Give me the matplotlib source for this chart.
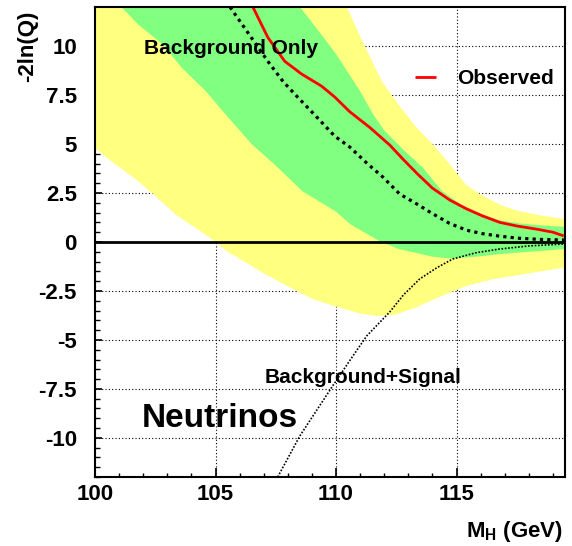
import numpy as np
import matplotlib
matplotlib.use("Agg")
import matplotlib.pyplot as plt
from matplotlib.ticker import MultipleLocator, FuncFormatter

plt.rcParams['font.family'] = ['Liberation Sans', 'DejaVu Sans']
plt.rcParams['font.weight'] = 'bold'
plt.rcParams['axes.unicode_minus'] = False
plt.rcParams['mathtext.fontset'] = 'custom'
plt.rcParams['mathtext.rm'] = 'Liberation Sans:bold'
plt.rcParams['mathtext.bf'] = 'Liberation Sans:bold'
plt.rcParams['mathtext.it'] = 'Liberation Sans:bold'

# ---------------- data ----------------
# observed -2ln(Q)
obs_x = [106.55, 107.17, 107.87, 108.58, 109.4, 109.95, 110.57, 111.4, 112.23, 112.8,
         113.4, 114.0, 114.71, 115.4, 116.08, 116.8, 117.49, 118.3, 119.0, 119.45]
obs_y = [12.0, 10.45, 9.23, 8.57, 7.96, 7.4, 6.65, 5.85, 4.95, 4.2,
         3.45, 2.75, 2.15, 1.7, 1.33, 1.0, 0.82, 0.66, 0.5, 0.31]

# expected background-only median
bkg_x = [105.6, 106.45, 107.17, 107.8, 108.29, 109.2, 109.95, 110.57, 111.3, 111.94,
         112.64, 113.34, 114.0, 114.71, 115.42, 116.1, 116.78, 117.5, 118.5, 119.48]
bkg_y = [12.0, 10.5, 9.23, 8.2, 7.55, 6.38, 5.4, 4.85, 4.0, 3.32,
         2.45, 1.95, 1.45, 0.95, 0.6, 0.42, 0.3, 0.2, 0.13, 0.1]

# expected background+signal median
sig_x = [107.58, 108.5, 109.86, 110.6, 111.27, 112.23, 112.8, 113.47, 114.2, 114.84,
         115.8, 116.78, 118.0, 119.48]
sig_y = [-12.0, -9.9, -7.35, -6.0, -4.8, -3.57, -2.7, -1.89, -1.3, -0.87,
         -0.55, -0.36, -0.2, -0.1]

# 1 sigma band edges
up1_x = [108.3, 108.5, 109.2, 110.0, 111.0, 111.5, 112.0, 112.8, 113.6, 114.4,
         115.2, 116.0, 116.8, 117.6, 118.5, 119.5]
up1_y = [12.5, 12.0, 10.9, 9.6, 7.7, 6.6, 5.7, 4.7, 3.8, 2.6,
         1.9, 1.45, 1.1, 0.95, 0.85, 0.77]
lo1_x = [100.8, 101.1, 101.8, 102.8, 103.6, 104.6, 105.5, 106.5, 107.5, 108.6,
         110.0, 110.6, 111.8, 112.6, 113.3, 114.0, 114.8, 115.8, 116.8, 118.0, 119.5]
lo1_y = [12.5, 12.0, 11.1, 10.1, 8.9, 7.7, 6.4, 5.0, 3.9, 2.6,
         1.55, 0.9, 0.05, -0.36, -0.55, -0.75, -0.85, -0.75, -0.62, -0.5, -0.36]

# 2 sigma band edges
up2_x = [100.0, 110.3, 110.45, 111.0, 111.9, 112.6, 113.3, 114.0, 114.7, 115.4,
         116.1, 116.8, 117.5, 118.5, 119.5]
up2_y = [30.0, 12.5, 12.0, 10.5, 8.2, 7.0, 5.9, 5.0, 4.0, 2.9,
         2.35, 1.9, 1.6, 1.35, 1.17]
lo2_x = [100.0, 100.7, 101.7, 102.5, 103.4, 104.2, 104.85, 105.5, 106.2, 107.0,
         107.6, 109.0, 110.0, 111.0, 111.7, 112.5, 113.3, 114.3, 115.4, 116.5,
         117.5, 118.5, 119.5]
lo2_y = [4.8, 4.1, 3.2, 2.35, 1.35, 0.7, 0.15, -0.5, -1.0, -1.6,
         -2.0, -2.9, -3.3, -3.65, -3.78, -3.7, -3.35, -2.8, -2.25, -1.9,
         -1.7, -1.5, -1.3]

x_ticks = [100, 105, 110, 115]
y_ticks = [-10, -7.5, -5, -2.5, 0, 2.5, 5, 7.5, 10]

# ---------------- figure ----------------
fig = plt.figure(figsize=(5.72, 5.46), dpi=100)
ax = fig.add_axes([95/572, 1-477/546, 470/572, 470/546])
ax.set_xlim(100, 119.5)
ax.set_ylim(-12, 12)

ax.set_axisbelow(True)
ax.grid(True, which='major', color='black', linestyle=(0, (1, 2)), linewidth=0.8, zorder=0)

yellow = '#FFFF80'
green = '#80FF80'
ax.fill(np.concatenate([lo2_x, up2_x[::-1]]), np.concatenate([lo2_y, up2_y[::-1]]),
        color=yellow, linewidth=0, zorder=1)
ax.fill(np.concatenate([lo1_x, up1_x[::-1]]), np.concatenate([lo1_y, up1_y[::-1]]),
        color=green, linewidth=0, zorder=2)

ax.axhline(0, color='black', linewidth=2.0, zorder=3)

ax.plot(sig_x, sig_y, color='black', linestyle=(0, (1, 1)), linewidth=1.2, zorder=4)
ax.plot(bkg_x, bkg_y, color='black', linestyle=(0, (1, 1.3)), linewidth=2.3, zorder=4)
obs_line, = ax.plot(obs_x, obs_y, color='#FF0000', linewidth=2.0, zorder=5,
                    solid_capstyle='butt')

ax.legend([obs_line], ['Observed'], loc='center left',
          bbox_to_anchor=((415-95)/470, (477-79)/470), frameon=False,
          handlelength=1.0, handletextpad=1.0, borderpad=0, borderaxespad=0,
          prop={'size': 15, 'weight': 'bold'})

ax.text(102.05, 9.9, 'Background Only', fontsize=15, fontweight='bold',
        ha='left', va='center', zorder=6)
ax.text(107.05, -6.9, 'Background+Signal', fontsize=15, fontweight='bold',
        ha='left', va='center', zorder=6)
ax.text(101.95, -9.0, 'Neutrinos', fontsize=24, fontweight='bold',
        ha='left', va='center', zorder=6)

# ticks
ax.set_xticks(x_ticks)
ax.set_yticks(y_ticks)
ax.xaxis.set_minor_locator(MultipleLocator(1))
ax.yaxis.set_minor_locator(MultipleLocator(0.5))
ax.yaxis.set_major_formatter(FuncFormatter(lambda v, p: f'{v:g}'))
ax.tick_params(axis='x', which='major', direction='in', length=6.5, width=1.2,
               labelsize=16, pad=5, top=False)
ax.tick_params(axis='x', which='minor', direction='in', length=3, width=1.0, top=False)
ax.tick_params(axis='y', which='major', direction='in', length=5, width=1.2,
               labelsize=16, pad=13, right=False)
ax.tick_params(axis='y', which='minor', direction='in', length=3.5, width=1.0, right=False)
for lab in ax.get_xticklabels() + ax.get_yticklabels():
    lab.set_fontweight('bold')

for s in ax.spines.values():
    s.set_linewidth(1.5)
    s.set_zorder(7)

fig.text(28/572, 1-11/546, '-2ln(Q)', rotation=90, ha='center', va='top',
         fontsize=16, fontweight='bold')
fig.text(563/572, 1-537/546, r'$\mathbf{M_H}$ (GeV)', ha='right', va='baseline',
         fontsize=16, fontweight='bold')

fig.savefig('out.png', dpi=100)
